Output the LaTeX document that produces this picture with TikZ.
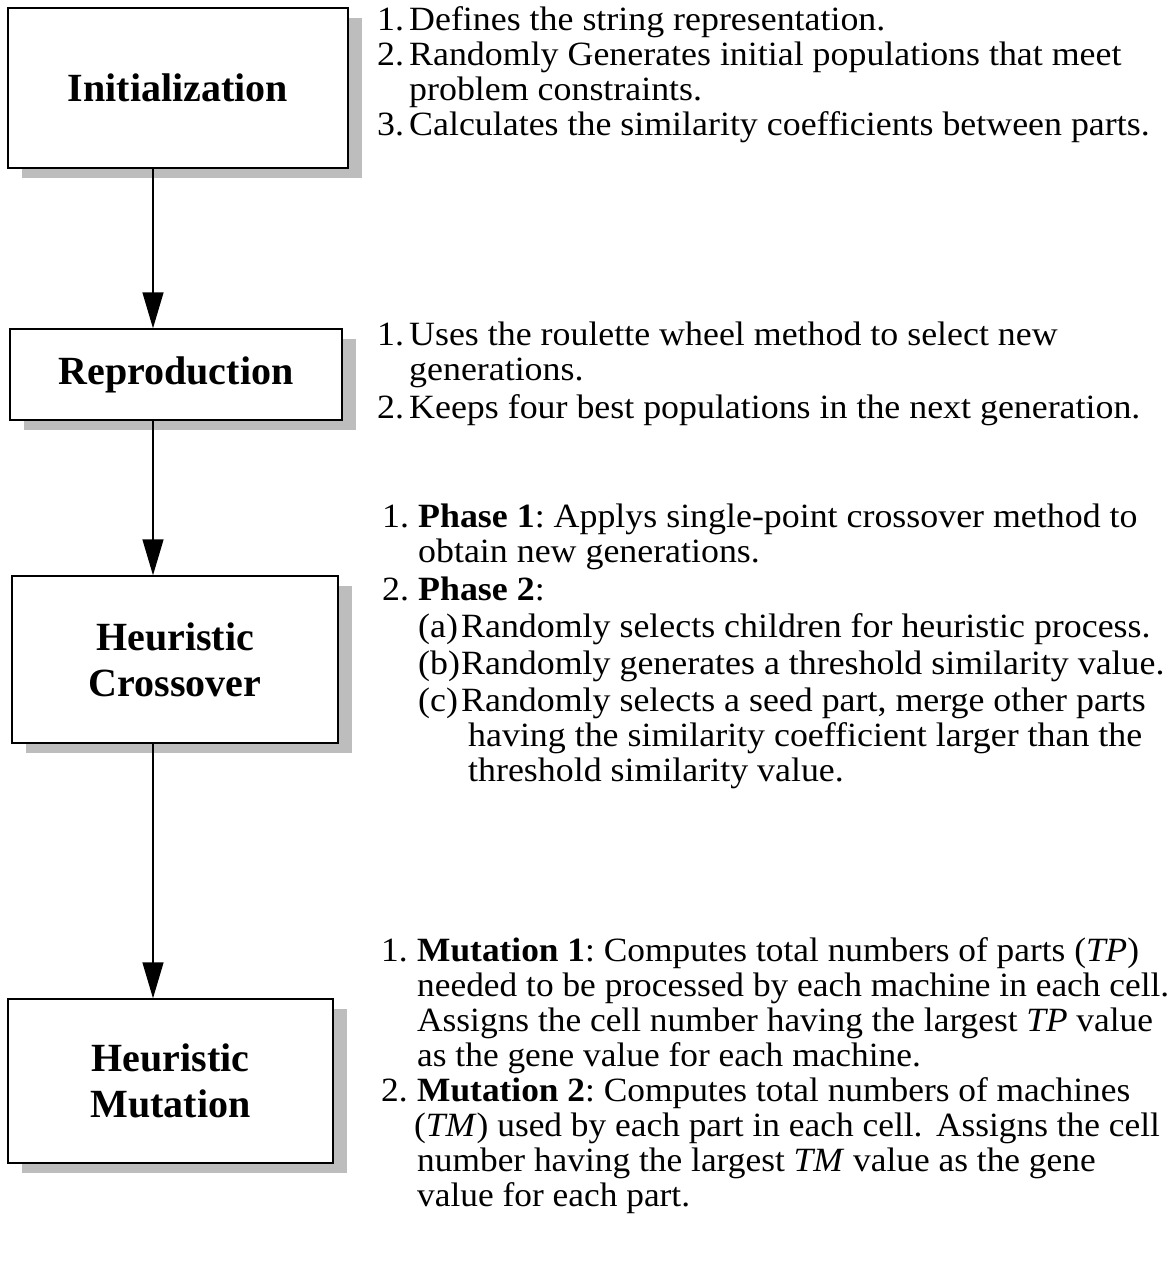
\documentclass[tikz,border=0pt]{standalone}
\usepackage{fontspec}
\setmainfont{Liberation Serif}
\newfontfamily\notefont[FakeStretch=1.055]{Liberation Serif}
\newfontfamily\mutfont[FakeStretch=1.04]{Liberation Serif}
\usepackage{tikz}
\usetikzlibrary{arrows.meta,positioning,shadows}
\definecolor{GaShade}{HTML}{BDBDBD}
\newcommand{\lab}[2][32pt]{\makebox[#1][l]{#2}}
\newcommand{\sublab}[1]{\hspace*{36pt}\makebox[43pt][l]{#1}}

\begin{document}
\begin{tikzpicture}[x=1pt, y=-1pt,
  stage/.style={draw, line width=1.4pt, fill=white, align=center, inner sep=0pt,
                font=\fontsize{40}{46}\selectfont\bfseries,
                drop shadow={shadow xshift=14pt, shadow yshift=-10pt, fill=GaShade, opacity=1}},
  notes/.style={anchor=north west, align=left, inner sep=0pt,
                font=\notefont\fontsize{34}{35}\selectfont\frenchspacing},
  flow/.style={-{Triangle[length=36pt, width=21pt]}, line width=1.4pt}]
\useasboundingbox (0,0) rectangle (1173,1261);
\coordinate (spine) at (153,0);

% stages
\node[stage, minimum width=340pt, minimum height=160pt] (init)  at (178,88)  {Initialization};
\node[stage, minimum width=332pt, minimum height=91pt]  (repro) at (176,374.5) {Reproduction};
\node[stage, minimum width=326pt, minimum height=167pt] (cross) at (175,659.5) {Heuristic\\Crossover};
\node[stage, minimum width=325pt, minimum height=164pt] (mut)   at (170.5,1081) {Heuristic\\Mutation};

\draw[flow] (init.south -| spine) -- (repro.north -| spine);
\draw[flow] (repro.south -| spine) -- (cross.north -| spine);
\draw[flow] (cross.south -| spine) -- (mut.north -| spine);

% descriptions
\node[notes] (initnote) at (377,6) {\strut\lab{1.}Defines the string representation.\\
  \lab{2.}Randomly Generates initial populations that meet\\
  \hspace*{32pt}problem constraints.\\
  \lab{3.}Calculates the similarity coefficients between parts.};

\node[notes] (repronote) at (377,321) {\strut\lab{1.}Uses the roulette wheel method to select new\\
  \hspace*{32pt}generations.\\[3pt]
  \lab{2.}Keeps four best populations in the next generation.};

\node[notes] (crossnote) at (382,503) {\strut\lab[36pt]{1.}\textbf{Phase 1}: Applys single-point crossover method to\\
  \hspace*{36pt}obtain new generations.\\[3pt]
  \lab[36pt]{2.}\textbf{Phase 2}:\\[2pt]
  \sublab{(a)}Randomly selects children for heuristic process.\\[2pt]
  \sublab{(b)}Randomly generates a threshold similarity value.\\[2pt]
  \sublab{(c)}Randomly selects a seed part, merge other parts\\
  \hspace*{86pt}having the similarity coefficient larger than the\\
  \hspace*{86pt}threshold similarity value.};

\node[notes, font=\mutfont\fontsize{34}{35}\selectfont\frenchspacing] (mutnote) at (381,937)
  {\strut\lab[36pt]{1.}\textbf{Mutation 1}: Computes total numbers of parts (\textit{TP})\\
  \hspace*{36pt}needed to be processed by each machine in each cell.\\
  \hspace*{36pt}Assigns the cell number having the largest \textit{TP} value\\
  \hspace*{36pt}as the gene value for each machine.\\
  \lab[36pt]{2.}\textbf{Mutation 2}: Computes total numbers of machines\\
  \hspace*{33pt}(\textit{TM}) used by each part in each cell.\hspace{0.4em}Assigns the cell\\
  \hspace*{36pt}number having the largest \textit{TM} value as the gene\\
  \hspace*{36pt}value for each part.};
\end{tikzpicture}
\end{document}
